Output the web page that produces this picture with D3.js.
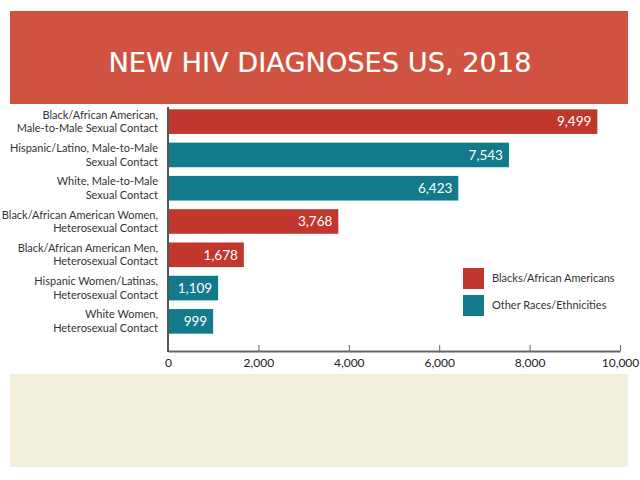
<!DOCTYPE html>
<html>
<head>
<meta charset="utf-8">
<script src="https://cdn.jsdelivr.net/npm/d3@7"></script>
<style>
html,body{margin:0;padding:0;background:#fff;}
svg{display:block;}
</style>
</head>
<body>
<svg id="chart" width="640" height="480"></svg>
<script>
const title = "NEW HIV DIAGNOSES US, 2018";
const categories = [
  "Black/African American,|Male-to-Male Sexual Contact",
  "Hispanic/Latino, Male-to-Male|Sexual Contact",
  "White, Male-to-Male|Sexual Contact",
  "Black/African American Women,|Heterosexual Contact",
  "Black/African American Men,|Heterosexual Contact",
  "Hispanic Women/Latinas,|Heterosexual Contact",
  "White Women,|Heterosexual Contact"
];
const values = [9499, 7543, 6423, 3768, 1678, 1109, 999];
const groups = ["black", "other", "other", "black", "black", "other", "other"];
const legendKeys = ["black", "other"];
const legendLabels = ["Blacks/African Americans", "Other Races/Ethnicities"];
const tickValues = [0, 2000, 4000, 6000, 8000, 10000];

const color = d3.scaleOrdinal().domain(legendKeys).range(["#c1372e", "#137a8c"]);
const fmt = d3.format(",");
const bodyFont = "Lato, 'Open Sans', sans-serif";

const svg = d3.select("#chart");

// title band
svg.append("rect").attr("x", 10).attr("y", 11).attr("width", 618).attr("height", 93).attr("fill", "#cf5340");
svg.append("text").attr("x", 320).attr("y", 72).attr("text-anchor", "middle")
  .attr("fill", "#fff").attr("font-family", "'Liberation Sans Narrow', 'DejaVu Sans Condensed', sans-serif")
  .attr("font-size", 27).attr("textLength", 423).attr("lengthAdjust", "spacingAndGlyphs")
  .attr("stroke", "#fff").attr("stroke-width", 0.15)
  .text(title);

// bottom beige box
svg.append("rect").attr("x", 10).attr("y", 374).attr("width", 618).attr("height", 93).attr("fill", "#f3efdd");

const x = d3.scaleLinear().domain([0, 10000]).range([168, 620]);
const y = d3.scaleBand().domain(categories).range([105, 338]).paddingInner(0.26).paddingOuter(0.13);

// bars
svg.append("g").selectAll("rect").data(categories).join("rect")
  .attr("x", x(0)).attr("y", d => y(d))
  .attr("width", (d, i) => x(values[i]) - x(0))
  .attr("height", y.bandwidth())
  .attr("fill", (d, i) => color(groups[i]));

// value labels
svg.append("g").selectAll("text").data(categories).join("text")
  .attr("x", (d, i) => x(values[i]) - 6)
  .attr("y", d => y(d) + y.bandwidth() / 2)
  .attr("dy", "0.35em").attr("text-anchor", "end")
  .attr("fill", "#fff").attr("font-family", bodyFont).attr("font-size", 13.5)
  .text((d, i) => fmt(values[i]));

// category labels
const lab = svg.append("g").selectAll("text").data(categories).join("text")
  .attr("x", 158).attr("text-anchor", "end")
  .attr("fill", "#333").attr("font-family", bodyFont).attr("font-size", 11);
lab.each(function(d) {
  const parts = d.split("|");
  const cy = y(d) + y.bandwidth() / 2;
  d3.select(this).selectAll("tspan").data(parts).join("tspan")
    .attr("x", 158)
    .attr("y", (p, j) => cy + (j - 0.5) * 13.5)
    .attr("dy", "0.35em")
    .text(p => p);
});

// x axis
const axis = svg.append("g").attr("transform", "translate(0,351)")
  .call(d3.axisBottom(x).tickValues(tickValues).tickFormat(fmt).tickSizeInner(-6).tickSizeOuter(0).tickPadding(7));
axis.select(".domain").attr("stroke", "#666").attr("stroke-width", 2);
axis.selectAll(".tick line").attr("stroke", "#666").attr("stroke-width", 1);
axis.selectAll(".tick text").attr("fill", "#222").attr("font-family", bodyFont).attr("font-size", 12);

// y axis line
svg.append("line").attr("x1", 168).attr("x2", 168).attr("y1", 107).attr("y2", 352)
  .attr("stroke", "#555").attr("stroke-width", 2);

// legend
const leg = svg.append("g").selectAll("g").data(legendKeys).join("g")
  .attr("transform", (d, i) => `translate(463,${268 + i * 27})`);
leg.append("rect").attr("width", 21).attr("height", 21).attr("fill", d => color(d));
leg.append("text").attr("x", 29).attr("y", 10.5).attr("dy", "0.35em")
  .attr("fill", "#333").attr("font-family", bodyFont).attr("font-size", 11)
  .text((d, i) => legendLabels[i]);
</script>
</body>
</html>
